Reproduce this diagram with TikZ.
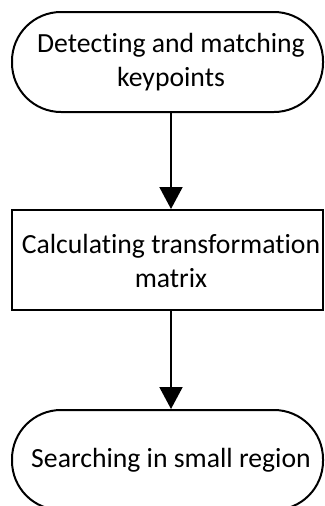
\documentclass[tikz,border=0pt]{standalone}
\usepackage{fontspec}
\setmainfont{Carlito}[Ligatures=NoCommon]
\usetikzlibrary{arrows.meta,calc}
\tikzset{
  shapebox/.style={draw=black, line width=2pt, minimum width=311pt, minimum height=100pt, inner sep=0pt},
  stadium/.style={shapebox, rounded corners=49pt},
  procbox/.style={shapebox},
  lbl/.style={align=center, inner sep=0pt, font=\fontsize{27.7pt}{34pt}\selectfont, text=black},
  arr/.style={line width=2pt, -{Triangle[length=22pt,width=23pt]}}
}
\begin{document}
\begin{tikzpicture}[x=1pt,y=-1pt]
\useasboundingbox (0,0) rectangle (324,506);
\clip (0,0) rectangle (324,506);
\node[stadium] (s1) at (167.5,62) {};
\node[procbox] (r) at (167.5,260) {};
\node[stadium] (s2) at (167.5,460) {};
\node[lbl] (t1) at (171,62) {Detecting and matching\\keypoints};
\node[lbl] (t2) at (171,261) {Calculating transformation\\matrix};
\node[lbl] (t3) at (171,460) {Searching in small region};
\draw[arr] ([xshift=3.5pt]s1.south) -- ([xshift=3.5pt]r.north);
\draw[arr] ([xshift=3.5pt]r.south) -- ([xshift=3.5pt]s2.north);
\end{tikzpicture}
\end{document}
